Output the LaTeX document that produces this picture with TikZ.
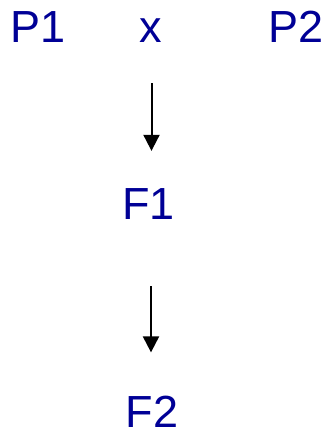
\documentclass[tikz,border=0pt]{standalone}
\usepackage{fontspec}
\setmainfont{Liberation Sans}
\usetikzlibrary{arrows.meta}
\definecolor{labelblue}{RGB}{0,0,150}
\begin{document}
\begin{tikzpicture}[x=1pt,y=1pt,
  lbl/.style={anchor=base,inner sep=0pt,text=labelblue,font=\fontsize{45}{50}\selectfont},
  arr/.style={line width=2pt,-{Triangle[width=16pt,length=16pt]}}]
\useasboundingbox (0,0) rectangle (329,432);
\node[lbl] (P1) at (38,389) {P1};
\node[lbl] (x) at (150.5,389) {x};
\node[lbl] (P2) at (296,389) {P2};
\node[lbl] (F1) at (148.5,212) {F1};
\node[lbl] (F2) at (152,5) {F2};
\draw[arr,shorten <=40pt,shorten >=38pt] (x.south -| 151.5,0) -- (F1.north -| 151.5,0);
\draw[arr,shorten <=66pt,shorten >=43pt] (F1.south -| 151,0) -- (F2.north -| 151,0);
\end{tikzpicture}
\end{document}
